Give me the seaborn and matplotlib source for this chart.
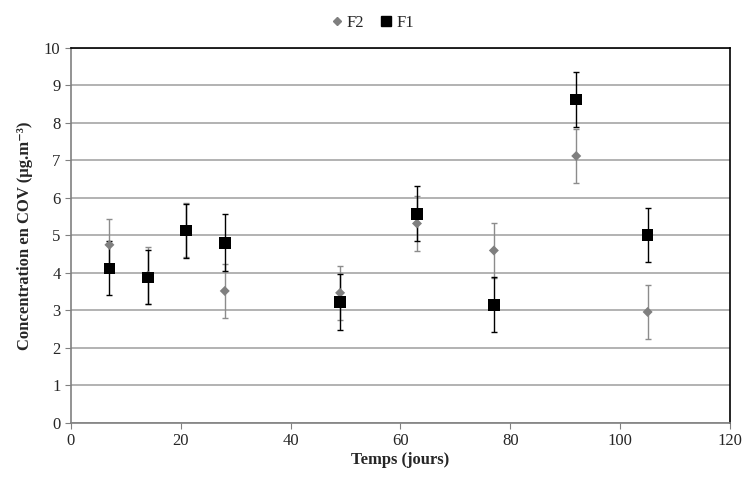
import pandas as pd
import numpy as np
import matplotlib.pyplot as plt
import seaborn as sns
from matplotlib.lines import Line2D

days = [7, 14, 21, 28, 49, 63, 77, 92, 105]
f2_conc = [4.75, 3.93, 5.15, 3.52, 3.47, 5.32, 4.60, 7.12, 2.96]
f2_err = [0.70, 0.76, 0.72, 0.73, 0.72, 0.73, 0.73, 0.73, 0.71]
f1_conc = [4.12, 3.88, 5.13, 4.80, 3.23, 5.58, 3.15, 8.63, 5.02]
f1_err = [0.72, 0.72, 0.72, 0.76, 0.74, 0.74, 0.73, 0.74, 0.72]

df = pd.DataFrame({
    'Temps': days * 2,
    'Concentration': f2_conc + f1_conc,
    'Série': ['F2'] * len(days) + ['F1'] * len(days),
})

sns.set_style('white')
plt.rcParams['font.family'] = ['Liberation Serif', 'DejaVu Serif']

fig = plt.figure(figsize=(7.44, 4.79), dpi=100)
ax = fig.add_axes([0.0954, 0.117, 0.8858, 0.7828])

# gridlines
ax.set_axisbelow(True)
ax.yaxis.grid(True, color='#a6a6a6', linewidth=1.2)
ax.xaxis.grid(False)

# error bars
ax.errorbar(days, f2_conc, yerr=f2_err, fmt='none', ecolor='#8c8c8c',
            elinewidth=1, capsize=2, capthick=1, zorder=2)
ax.errorbar(days, f1_conc, yerr=f1_err, fmt='none', ecolor='black',
            elinewidth=1, capsize=2, capthick=1, zorder=3)

sns.scatterplot(data=df, x='Temps', y='Concentration', hue='Série', style='Série',
                palette={'F2': '#7f7f7f', 'F1': 'black'},
                markers={'F2': 'D', 'F1': 's'},
                size='Série', sizes={'F2': 26, 'F1': 70},
                edgecolor='none', ax=ax, zorder=4, legend=False)

ax.set_xlim(0, 120)
ax.set_ylim(0, 10)
ax.set_xticks(range(0, 121, 20))
ax.set_yticks(range(0, 11))
ax.tick_params(axis='both', labelsize=12, length=4, direction='out',
               color='#808080', left=True, bottom=True)

for side in ['left', 'bottom']:
    ax.spines[side].set_color('#808080')
    ax.spines[side].set_linewidth(1.2)
for side in ['top', 'right']:
    ax.spines[side].set_color('black')
    ax.spines[side].set_linewidth(1.2)

ax.set_xlabel('Temps (jours)', fontsize=12, fontweight='bold', labelpad=2)
ax.set_ylabel('Concentration en COV (µg.m⁻³)', fontsize=12, fontweight='bold', labelpad=8)

# legend on top
handles = [
    Line2D([], [], marker='D', color='#7f7f7f', linestyle='none', markersize=4.5),
    Line2D([], [], marker='s', color='black', linestyle='none', markersize=7.5),
]
fig.legend(handles, ['F2', 'F1'], loc='upper center', bbox_to_anchor=(0.5, 1.0),
           ncol=2, frameon=False, fontsize=12, handlelength=0.8,
           handletextpad=0.2, columnspacing=0.9)

fig.savefig('out.png', dpi=100)
